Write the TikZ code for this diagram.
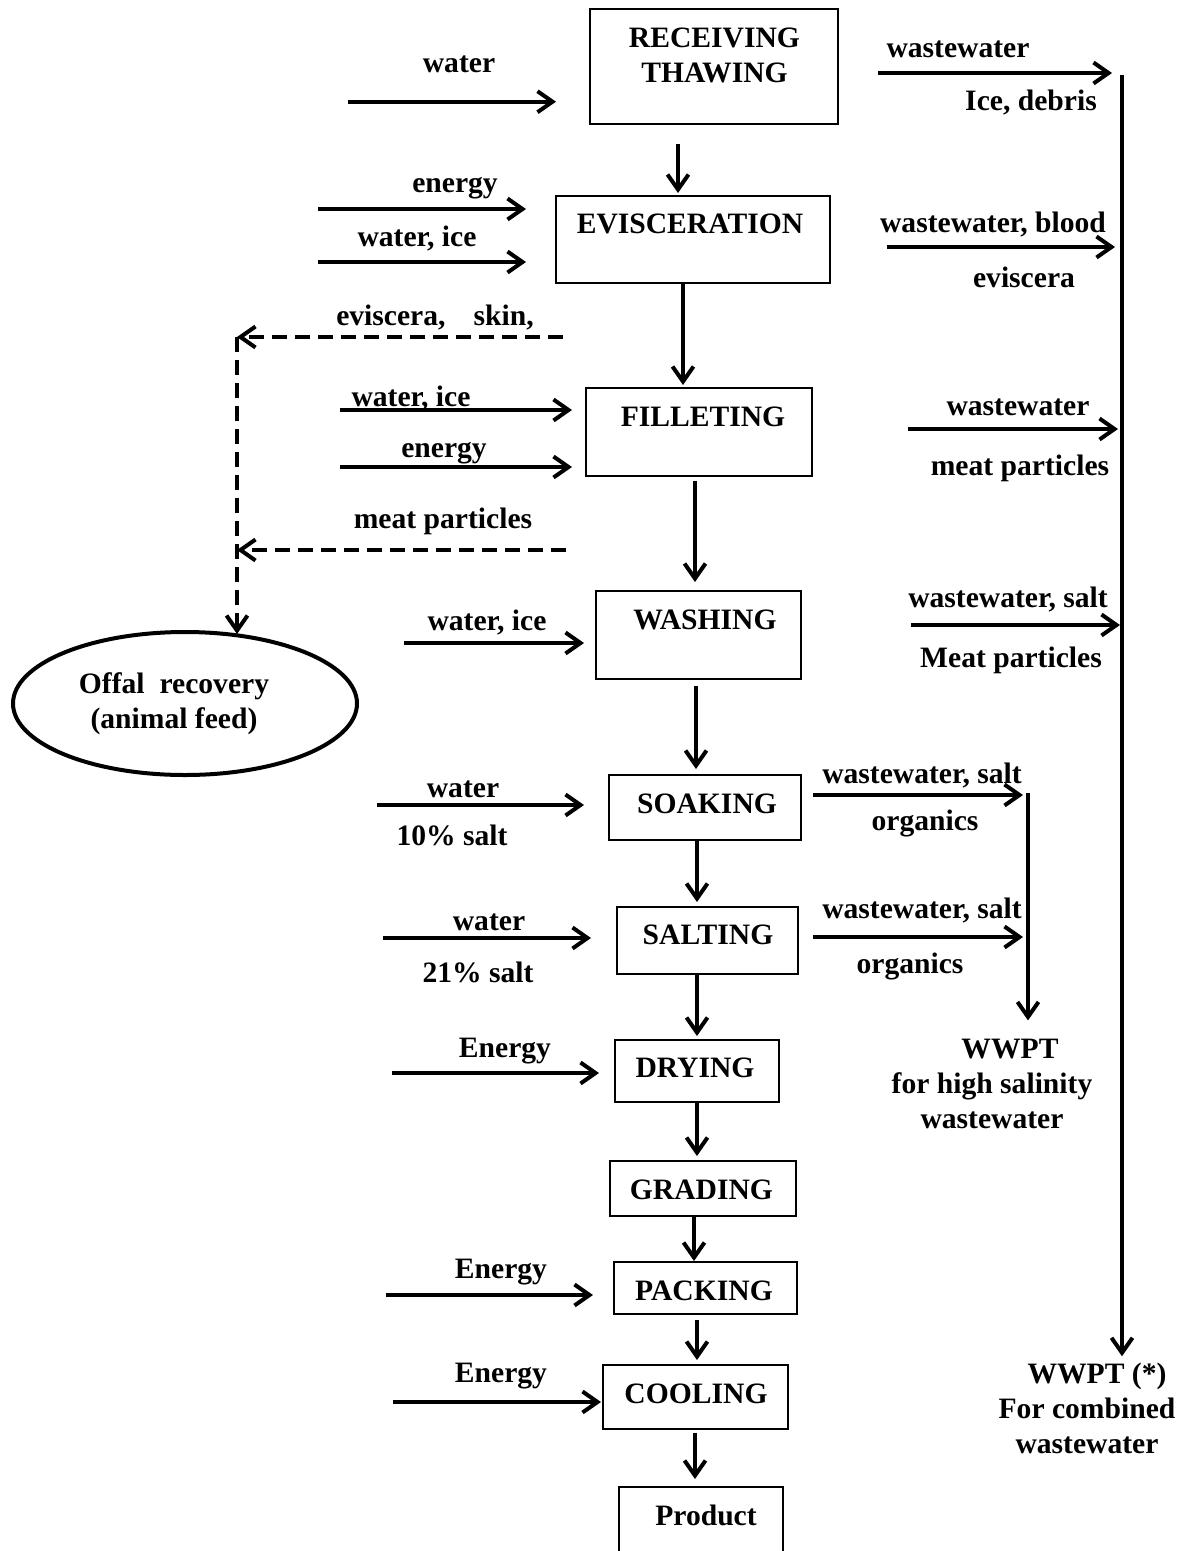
\documentclass[tikz,border=0pt]{standalone}
\usepackage{fontspec}
\setmainfont{Liberation Serif}
\usetikzlibrary{arrows.meta,shapes.geometric}
\begin{document}
\begin{tikzpicture}[x=1pt,y=-1pt,
  box/.style={draw, line width=2pt, rectangle, inner sep=0pt},
  txt/.style={font=\fontsize{29.6pt}{35pt}\selectfont\bfseries, inner sep=0pt, anchor=base, align=center},
  arr/.style={line width=4pt, -{Straight Barb[length=15pt,width=21pt]}},
  dasharr/.style={arr, dash pattern=on 15pt off 8pt},
]
\useasboundingbox (0,0) rectangle (1182,1551);
\clip (0,0) rectangle (1182,1551);

% process boxes
\node[box, minimum width=248pt, minimum height=115pt] (recv)   at (714,66.5) {};
\node[box, minimum width=274pt, minimum height=87pt]  (evisc)  at (693,239.5) {};
\node[box, minimum width=226pt, minimum height=88pt]  (fillet) at (699,432) {};
\node[box, minimum width=205pt, minimum height=88pt]  (wash)   at (698.5,635) {};
\node[box, minimum width=192pt, minimum height=65pt]  (soak)   at (705,807.5) {};
\node[box, minimum width=181pt, minimum height=67pt]  (salt)   at (707.5,940.5) {};
\node[box, minimum width=164pt, minimum height=62pt]  (dry)    at (697,1071) {};
\node[box, minimum width=186pt, minimum height=55pt]  (grade)  at (703,1188.5) {};
\node[box, minimum width=183pt, minimum height=52pt]  (pack)   at (705.5,1288) {};
\node[box, minimum width=185pt, minimum height=64pt]  (cool)   at (695.5,1397) {};
\node[box, minimum width=164pt, minimum height=93pt]  (prod)   at (701,1533.5) {};
\node[draw, ellipse, line width=4pt, minimum width=344pt, minimum height=143pt, inner sep=0pt] (offal) at (185,703.5) {};

% box texts (multi-line nodes: base = last line)
\node[txt] (recvt)   at (714.5,82)  {RECEIVING\\THAWING};
\node[txt] (evisct)  at (690,233)   {EVISCERATION};
\node[txt] (fillett) at (703,426)   {FILLETING};
\node[txt] (washt)   at (705,629)   {WASHING};
\node[txt] (soakt)   at (707,813)   {SOAKING};
\node[txt] (saltt)   at (708,944)   {SALTING};
\node[txt] (dryt)    at (695,1077)  {DRYING};
\node[txt] (gradet)  at (701.5,1199) {GRADING};
\node[txt] (packt)   at (704,1300)  {PACKING};
\node[txt] (coolt)   at (696,1403)  {COOLING};
\node[txt] (prodt)   at (706,1525)  {Product};
\node[txt] (offalt)  at (174,728)   {Offal\ \ recovery\\(animal feed)};

% input labels
\node[txt] (lin1)  at (459,72)   {water};
\node[txt] (lin2)  at (455,192)  {energy};
\node[txt] (lin3)  at (417,246)  {water, ice};
\node[txt] (ldash1) at (435,325) {eviscera,\hspace{0.95em}skin,};
\node[txt] (lin4)  at (411,406)  {water, ice};
\node[txt] (lin5)  at (444,457)  {energy};
\node[txt] (ldash2) at (443,528) {meat particles};
\node[txt] (lin6)  at (487,630)  {water, ice};
\node[txt] (lin7)  at (463,797)  {water};
\node[txt] (lin7b) at (452,845)  {10\% salt};
\node[txt] (lin8)  at (489,930)  {water};
\node[txt] (lin8b) at (478,982)  {21\% salt};
\node[txt] (lin9)  at (505,1057) {Energy};
\node[txt] (lin10) at (501,1278) {Energy};
\node[txt] (lin11) at (501,1382) {Energy};

% output labels
\node[txt] (lo1)  at (958,57)   {wastewater};
\node[txt] (lo1b) at (1031,110) {Ice, debris};
\node[txt] (lo2)  at (993,232)  {wastewater, blood};
\node[txt] (lo2b) at (1024,287) {eviscera};
\node[txt] (lo3)  at (1018,415) {wastewater};
\node[txt] (lo3b) at (1020,475) {meat particles};
\node[txt] (lo4)  at (1008,607) {wastewater, salt};
\node[txt] (lo4b) at (1011,667) {Meat particles};
\node[txt] (lo5)  at (922,783)  {wastewater, salt};
\node[txt] (lo5b) at (925,830)  {organics};
\node[txt] (lo6)  at (922,918)  {wastewater, salt};
\node[txt] (lo6b) at (910,973)  {organics};
\node[txt] (wwpt1) at (992,1128) {\hspace*{36pt}WWPT\\for high salinity\\wastewater};
\node[txt] (wwpt2) at (1087,1453) {\hspace*{20pt}WWPT (*)\\For combined\\wastewater};

% main flow
\draw[arr, shorten <=19pt, shorten >=2pt] (678,0 |- recv.south) -- (678,0 |- evisc.north);
\draw[arr, shorten >=2pt] (683,0 |- evisc.south) -- (683,0 |- fillet.north);
\draw[arr, shorten <=4pt, shorten >=8pt] (695,0 |- fillet.south) -- (695,0 |- wash.north);
\draw[arr, shorten <=6pt, shorten >=5pt] (696,0 |- wash.south) -- (696,0 |- soak.north);
\draw[arr, shorten >=4pt] (697,0 |- soak.south) -- (697,0 |- salt.north);
\draw[arr, shorten >=3pt] (697,0 |- salt.south) -- (697,0 |- dry.north);
\draw[arr, shorten >=4pt] (697,0 |- dry.south) -- (697,0 |- grade.north);
\draw[arr, shorten >=0pt] (694,0 |- grade.south) -- (694,0 |- pack.north);
\draw[arr, shorten <=5pt, shorten >=4pt] (697,0 |- pack.south) -- (697,0 |- cool.north);
\draw[arr, shorten <=3pt, shorten >=7pt] (695,0 |- cool.south) -- (695,0 |- prod.north);

% inputs
\coordinate (in1) at (348,101.7);
\coordinate (in2) at (318,209);
\coordinate (in3) at (318,262);
\coordinate (in4) at (340,410);
\coordinate (in5) at (340,467);
\coordinate (in6) at (404,643);
\coordinate (in7) at (377,805);
\coordinate (in8) at (383,938);
\coordinate (in9) at (392,1073);
\coordinate (in10) at (386,1295);
\coordinate (in11) at (393,1402);
\draw[arr, shorten >=33pt] (in1) -- (in1 -| recv.west);
\draw[arr, shorten >=29pt] (in2) -- (in2 -| evisc.west);
\draw[arr, shorten >=29pt] (in3) -- (in3 -| evisc.west);
\draw[arr, shorten >=13pt] (in4) -- (in4 -| fillet.west);
\draw[arr, shorten >=13pt] (in5) -- (in5 -| fillet.west);
\draw[arr, shorten >=11pt] (in6) -- (in6 -| wash.west);
\draw[arr, shorten >=24pt] (in7) -- (in7 -| soak.west);
\draw[arr, shorten >=25pt] (in8) -- (in8 -| salt.west);
\draw[arr, shorten >=15pt] (in9) -- (in9 -| dry.west);
\draw[arr, shorten >=20pt] (in10) -- (in10 -| pack.west);
\draw[arr, shorten >=1pt] (in11) -- (in11 -| cool.west);

% collectors
\coordinate (c1) at (1122,75);
\coordinate (c2) at (1028,793);
\draw[arr, shorten >=6pt] (c1) -- (c1 |- wwpt2.north);
\draw[arr, shorten >=18pt] (c2) -- (c2 |- wwpt1.north);

% outputs
\coordinate (out1) at (1122,73);
\coordinate (out2) at (1122,247);
\coordinate (out3) at (1122,429);
\coordinate (out4) at (1122,625);
\coordinate (out5) at (1028,795);
\coordinate (out6) at (1028,937);
\draw[arr, shorten <=39pt, shorten >=10pt] (recv.east |- out1) -- (out1);
\draw[arr, shorten <=56pt, shorten >=7pt] (evisc.east |- out2) -- (out2);
\draw[arr, shorten <=95pt, shorten >=4pt] (fillet.east |- out3) -- (out3);
\draw[arr, shorten <=109pt, shorten >=2pt] (wash.east |- out4) -- (out4);
\draw[arr, shorten <=11pt, shorten >=5pt] (soak.east |- out5) -- (out5);
\draw[arr, shorten <=14pt, shorten >=5pt] (salt.east |- out6) -- (out6);

% offal recovery (dashed)
\coordinate (dk) at (237,337);
\coordinate (d1) at (563,337);
\coordinate (d2) at (566,550);
\draw[dasharr] (d1) -- (dk);
\draw[dasharr, shorten >=-4pt] (dk) -- (dk |- offal.north);
\draw[dasharr] (d2) -- (d2 -| dk);
\end{tikzpicture}
\end{document}
